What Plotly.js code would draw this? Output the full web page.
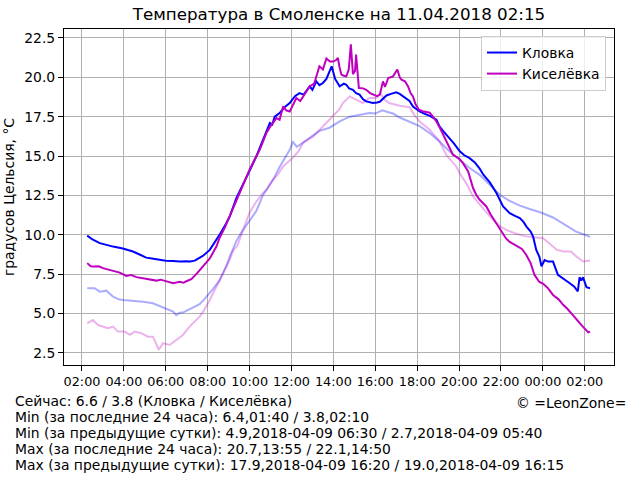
<!DOCTYPE html>
<html>
<head>
<meta charset="utf-8">
<script src="https://cdn.plot.ly/plotly-3.0.1.min.js"></script>
<style>html,body{margin:0;padding:0;background:#fff;}#chart{width:640px;height:480px;}</style>
</head>
<body>
<div id="chart"></div>
<script>
// Кловка, current 24 h
const klovkaTimes = ["02:15","02:30","02:51","03:10","03:29","03:57","04:26","04:45","05:04","05:20","05:42","06:00","06:21","06:40","06:59","07:10","07:23","07:35","07:46","08:06","08:20","08:34","08:50","09:03","09:22","09:35","09:51","10:05","10:19","10:30","10:43","10:58","11:05","11:12","11:26","11:40","11:55","12:10","12:23","12:35","12:52","13:00","13:11","13:20","13:30","13:40","13:55","14:05","14:18","14:30","14:37","14:45","14:56","15:05","15:15","15:25","15:34","15:45","15:53","16:05","16:13","16:25","16:32","16:45","17:00","17:10","17:19","17:30","17:38","17:48","18:07","18:20","18:36","18:55","19:04","19:14","19:33","19:45","20:02","20:15","20:30","20:45","20:59","21:10","21:28","21:47","22:06","22:15","22:25","22:40","22:54","23:05","23:13","23:25","23:32","23:41","23:50","23:56","00:05","00:15","00:29","00:43","00:58","01:17","01:30","01:40","01:45","01:50","01:55","02:00","02:05","02:15"];
const klovkaValues = [9.95,9.7,9.47,9.35,9.25,9.13,8.94,8.75,8.55,8.5,8.41,8.35,8.34,8.3,8.32,8.3,8.36,8.5,8.66,9.04,9.5,10.0,10.6,11.16,12.33,12.9,13.7,14.3,14.97,15.6,16.24,17.1,17.0,17.5,17.73,18.1,18.37,18.8,19.0,18.9,19.42,19.2,19.74,19.5,19.64,19.9,20.7,19.9,19.43,19.6,19.53,19.3,19.21,19.0,18.9,18.6,18.47,18.4,18.37,18.4,18.45,18.7,18.85,18.95,19.05,18.95,18.79,18.65,18.5,18.15,17.83,17.7,17.55,17.31,16.88,16.6,16.14,15.8,15.3,15.05,14.87,14.6,14.2,13.8,13.33,12.65,11.8,11.6,11.37,11.2,11.06,10.8,10.52,10.2,9.89,9.04,8.6,8.0,8.4,8.3,8.3,7.45,7.24,6.92,6.7,6.4,7.3,7.1,7.3,6.9,6.67,6.6];

// Киселёвка, current 24 h
const kiselTimes = ["02:15","02:25","02:36","02:48","03:00","03:19","03:35","03:48","04:07","04:20","04:36","04:50","05:04","05:20","05:33","05:45","06:02","06:21","06:40","06:50","06:59","07:13","07:28","07:46","08:06","08:25","08:34","08:50","09:03","09:17","09:32","09:45","10:00","10:15","10:29","10:48","11:00","11:17","11:26","11:36","11:45","11:55","12:05","12:14","12:25","12:33","12:45","12:52","13:05","13:11","13:20","13:30","13:40","13:50","13:59","14:08","14:13","14:18","14:23","14:30","14:37","14:44","14:50","14:56","15:02","15:05","15:09","15:13","15:25","15:34","15:45","15:53","16:05","16:13","16:18","16:22","16:28","16:37","16:51","17:03","17:10","17:15","17:25","17:34","17:41","17:48","17:55","18:05","18:15","18:26","18:36","18:45","18:55","19:05","19:14","19:23","19:33","19:42","20:02","20:11","20:26","20:40","20:50","20:59","21:18","21:30","21:47","22:00","22:15","22:25","22:44","23:00","23:13","23:25","23:36","23:50","00:00","00:15","00:29","00:45","00:58","01:10","01:26","01:36","01:45","01:55","02:05","02:10","02:15"];
const kiselValues = [8.2,8.0,7.98,8.0,7.88,7.77,7.7,7.6,7.39,7.45,7.31,7.25,7.18,7.1,7.09,7.15,7.03,6.92,7.01,6.95,7.05,7.18,7.52,7.98,8.5,9.25,9.8,10.5,11.16,11.9,12.65,13.4,14.13,14.8,15.4,16.46,16.9,17.41,17.3,18.15,17.9,17.83,18.3,18.69,18.5,18.79,19.2,19.42,19.6,20.1,20.7,20.5,21.2,21.0,21.0,21.1,21.23,20.6,20.17,20.1,20.06,20.5,22.1,20.2,20.4,21.44,20.2,19.32,19.3,19.21,19.0,18.9,18.8,18.9,19.4,19.74,19.4,19.96,20.06,20.5,20.0,19.85,19.75,19.42,19.0,18.79,18.3,17.94,17.85,17.8,17.75,17.5,17.2,16.8,16.35,15.95,15.51,15.1,14.8,14.55,14.02,12.97,12.5,12.22,11.8,11.3,10.7,10.2,9.75,9.55,9.3,9.1,8.7,8.2,7.45,7.0,6.9,6.6,6.18,5.9,5.55,5.3,4.9,4.6,4.4,4.15,3.9,3.8,3.85];

// Кловка, previous day
const klovkaPrevTimes = ["02:15","02:36","02:51","03:10","03:29","03:45","03:57","04:26","04:55","05:23","05:52","06:10","06:21","06:30","06:40","06:49","07:08","07:22","07:37","07:50","08:06","08:15","08:34","08:53","09:03","09:22","09:35","09:51","10:05","10:19","10:38","10:57","11:10","11:26","11:45","11:55","12:04","12:15","12:23","12:52","13:20","13:49","14:18","14:47","15:15","15:43","16:00","16:20","16:35","16:51","17:10","17:38","18:07","18:36","19:04","19:33","20:02","20:30","20:59","21:28","21:56","22:25","22:54","23:20","23:56","00:29","00:58","01:35","02:00","02:15"];
const klovkaPrevValues = [6.61,6.61,6.39,6.45,6.07,5.9,5.86,5.82,5.75,5.65,5.4,5.25,5.12,4.9,5.05,5.06,5.27,5.4,5.6,5.9,6.3,6.55,7.1,8.0,8.6,9.6,10.1,10.6,11.0,11.5,12.5,13.2,13.6,14.3,14.97,15.4,15.9,15.6,15.7,16.14,16.6,16.8,17.2,17.5,17.6,17.73,17.7,17.9,17.8,17.7,17.45,17.2,16.9,16.46,15.93,15.29,14.76,14.24,13.81,13.17,12.54,12.15,11.85,11.65,11.4,11.1,10.7,10.2,10.0,9.87];

// Киселёвка, previous day
const kiselPrevTimes = ["02:15","02:31","02:46","03:00","03:14","03:29","03:43","04:02","04:17","04:31","04:50","05:09","05:23","05:30","05:40","05:52","06:11","06:30","06:49","07:08","07:28","07:37","07:47","08:06","08:25","08:44","09:03","09:13","09:25","09:41","10:00","10:19","10:38","10:50","11:07","11:20","11:36","12:04","12:20","12:33","13:02","13:30","13:59","14:18","14:27","14:47","15:05","15:24","15:43","16:03","16:15","16:25","16:40","17:10","17:38","17:52","18:07","18:36","19:04","19:23","19:52","20:02","20:20","20:40","21:08","21:37","22:00","22:15","22:40","23:05","23:32","00:00","00:29","00:40","01:00","01:20","01:36","01:55","02:15"];
const kiselPrevValues = [4.38,4.59,4.27,4.17,4.06,4.17,3.85,3.85,3.64,3.85,3.75,3.53,3.53,3.2,2.7,3.11,3.0,3.32,3.64,4.17,4.59,4.8,5.12,5.86,6.71,7.56,8.41,9.0,9.3,10.3,11.4,12.1,12.65,12.9,13.49,13.8,14.34,14.9,15.3,15.83,16.24,16.88,17.52,18.0,18.37,18.79,18.58,18.37,18.69,18.69,19.0,18.6,18.37,18.2,18.1,17.6,17.2,16.67,15.93,15.08,14.34,13.9,13.3,12.44,11.7,10.95,10.5,10.31,10.1,9.93,9.85,9.79,9.25,9.04,8.94,8.94,8.62,8.3,8.36];

const seriesNames = ["Кловка", "Киселёвка"];
const titleText = "Температура в Смоленске на 11.04.2018 02:15";
const yTitle = "градусов Цельсия, °C";
const infoLines = [
  "Сейчас: 6.6 / 3.8 (Кловка / Киселёвка)",
  "Min (за последние 24 часа): 6.4,01:40 / 3.8,02:10",
  "Min (за предыдущие сутки): 4.9,2018-04-09 06:30 / 2.7,2018-04-09 05:40",
  "Max (за последние 24 часа): 20.7,13:55 / 22.1,14:50",
  "Max (за предыдущие сутки): 17.9,2018-04-09 16:20 / 19.0,2018-04-09 16:15"
];
const copyright = "©\u00a0=LeonZone=";

function stamp(times) {
  let day = 10, prev = -1;
  return times.map(t => {
    const [h, m] = t.split(':').map(Number);
    const mins = h * 60 + m;
    if (mins < prev) day++;
    prev = mins;
    return '2018-04-' + day + ' ' + t;
  });
}

const FONT = 'DejaVu Sans';
const BLUE = '#0000ff', MAG = '#bf00bf';

const traces = [
  {x: stamp(klovkaPrevTimes), y: klovkaPrevValues, mode: 'lines', line: {color: BLUE, width: 2}, opacity: 0.33, showlegend: false, hoverinfo: 'skip'},
  {x: stamp(kiselPrevTimes), y: kiselPrevValues, mode: 'lines', line: {color: MAG, width: 2}, opacity: 0.3, showlegend: false, hoverinfo: 'skip'},
  {x: stamp(klovkaTimes), y: klovkaValues, mode: 'lines', name: seriesNames[0], line: {color: BLUE, width: 2}},
  {x: stamp(kiselTimes), y: kiselValues, mode: 'lines', name: seriesNames[1], line: {color: MAG, width: 2}}
];

const mL = 64, mR = 26, mT = 29, mB = 115;
const plotW = 640 - mL - mR, plotH = 480 - mT - mB;
const pxX = px => (px - mL) / plotW;
const pxY = py => (480 - mB - py) / plotH;

const annotations = infoLines.map((t, i) => ({
  text: t, xref: 'paper', yref: 'paper', x: pxX(13), y: pxY(401 + 16 * i),
  xanchor: 'left', yanchor: 'middle', showarrow: false, align: 'left',
  font: {family: FONT, size: 13.9, color: '#000'}
}));
annotations.push({
  text: copyright, xref: 'paper', yref: 'paper', x: pxX(628), y: pxY(403),
  xanchor: 'right', yanchor: 'middle', showarrow: false,
  font: {family: FONT, size: 13.9, color: '#000'}
});

const axisCommon = {
  showline: true, mirror: true, linecolor: '#000', linewidth: 1,
  ticks: 'outside', ticklen: 5, tickwidth: 1, tickcolor: '#000',
  showgrid: true, gridcolor: '#b0b0b0', gridwidth: 1, zeroline: false,
  tickfont: {family: FONT, size: 13.9, color: '#000'}
};

const layout = {
  width: 640, height: 480,
  margin: {l: mL, r: mR, t: mT, b: mB, pad: 0},
  paper_bgcolor: '#fff', plot_bgcolor: '#fff',
  font: {family: FONT, color: '#000'},
  title: {text: titleText, font: {family: FONT, size: 16.7, color: '#000'}, xref: 'paper', x: 0.5, xanchor: 'center', yref: 'container', y: 1 - 14 / 480, yanchor: 'middle'},
  xaxis: Object.assign({}, axisCommon, {
    type: 'date', range: ['2018-04-10 01:08:30', '2018-04-11 03:23:40'],
    tick0: '2018-04-10 02:00', dtick: 7200000, tickformat: '%H:%M', tickangle: 0,
    tickfont: {family: FONT, size: 12.8, color: '#000'}
  }),
  yaxis: Object.assign({}, axisCommon, {
    range: [1.73, 23.07], tick0: 0, dtick: 2.5, tickformat: '.1f',
    title: {text: yTitle, font: {family: FONT, size: 13.9, color: '#000'}, standoff: 6}
  }),
  legend: {
    x: pxX(606), y: pxY(36), xanchor: 'right', yanchor: 'top',
    bgcolor: 'rgba(255,255,255,0.8)', bordercolor: '#cccccc', borderwidth: 1,
    font: {family: FONT, size: 13.9, color: '#000'}
  },
  annotations: annotations,
  showlegend: true
};

Plotly.newPlot('chart', traces, layout, {staticPlot: true, displayModeBar: false});
</script>
</body>
</html>
